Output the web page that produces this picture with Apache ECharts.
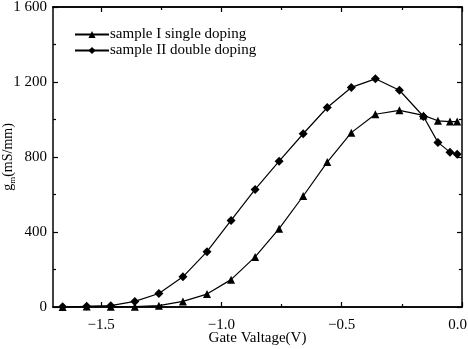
<!DOCTYPE html>
<html>
<head>
<meta charset="utf-8">
<script src="https://cdn.jsdelivr.net/npm/echarts@6/dist/echarts.min.js"></script>
<style>
  html, body { margin: 0; padding: 0; background: #fff; }
  #chart { width: 468px; height: 349px; }
</style>
</head>
<body>
<div id="chart"></div>
<script>
// Gate voltage sweep (V)
var gateVoltage = [-1.66, -1.56, -1.46, -1.36, -1.26, -1.16, -1.06, -0.96, -0.86, -0.76,
                   -0.66, -0.56, -0.46, -0.36, -0.26, -0.16, -0.10, -0.05, -0.02];
// Transconductance gm (mS/mm)
var gmSingle = [0, 3, 2, 2, 7, 30, 69, 146, 267, 418, 592, 773, 930, 1028, 1049, 1022, 993, 989, 989];
var gmDouble = [2, 4, 7, 30, 72, 161, 295, 462, 627, 778, 924, 1064, 1171, 1217, 1156, 1016, 878, 826, 815];

var seriesNames = ['sample I single doping', 'sample II double doping'];
var xMajorTicks = [-1.5, -1.0, -0.5, 0.0];
var xMinorTicks = [-1.25, -0.75, -0.25];

var FONT = "'Liberation Serif', 'DejaVu Serif', serif";

function pairs(xs, ys) {
  return xs.map(function (x, i) { return [x, ys[i]]; });
}
function fmtX(v) {
  var s = Math.abs(v).toFixed(1);
  // the 0.0 label sits against the right frame, nudge it inward
  if (v === 0) return '{edge|' + s + '}';
  return v < 0 ? '\u2212' + s : s;
}
function fmtY(v) {
  var s = String(v);
  return s.length > 3 ? s.slice(0, s.length - 3) + ' ' + s.slice(-3) : s;
}

var axisLineStyle = { color: '#000', width: 1.5 };

function xAxisDef(position, ticks, len, showLabel, name) {
  return {
    type: 'value', position: position, min: -1.7, max: 0,
    axisLine: { show: true, onZero: false, lineStyle: axisLineStyle },
    axisTick: { show: true, inside: true, length: len, customValues: ticks,
                lineStyle: { color: '#000', width: 1.2 } },
    axisLabel: showLabel ? {
      show: true, customValues: ticks, formatter: fmtX,
      margin: 11, color: '#000', fontFamily: FONT, fontSize: 15,
      rich: { edge: { fontFamily: FONT, fontSize: 15, color: '#000', padding: [0, 9, 0, 0] } }
    } : { show: false },
    splitLine: { show: false },
    name: name || '', nameLocation: 'middle', nameGap: 24, nameMoveOverlap: false,
    nameTextStyle: { color: '#000', fontFamily: FONT, fontSize: 15, verticalAlign: 'top' }
  };
}

function yAxisDef(position, showLabel, name) {
  return {
    type: 'value', position: position, min: 0, max: 1600, interval: 400,
    axisLine: { show: true, onZero: false, lineStyle: axisLineStyle },
    axisTick: { show: true, inside: true, length: 5, lineStyle: { color: '#000', width: 1.2 } },
    minorTick: { show: true, splitNumber: 2, length: 3, lineStyle: { color: '#000', width: 1.2 } },
    axisLabel: showLabel ? { show: true, formatter: fmtY, margin: 6, color: '#000',
                 fontFamily: FONT, fontSize: 15 } : { show: false },
    splitLine: { show: false },
    name: name || '', nameLocation: 'middle', nameGap: 36, nameRotate: 90, nameMoveOverlap: false,
    nameTextStyle: {
      color: '#000', fontFamily: FONT, fontSize: 14, verticalAlign: 'bottom',
      rich: { sub: { fontFamily: FONT, fontSize: 9, verticalAlign: 'bottom', padding: [8, 0, 0, 0] },
              n: { fontFamily: FONT, fontSize: 14 } }
    }
  };
}

var chart = echarts.init(document.getElementById('chart'), null, { renderer: 'canvas' });

chart.setOption({
  animation: false,
  backgroundColor: '#fff',
  grid: { left: 53, right: 6, top: 7, bottom: 42, outerBoundsMode: 'none', containLabel: false },
  legend: {
    data: seriesNames,
    orient: 'vertical', left: 74, top: 27, padding: 0,
    itemWidth: 34, itemHeight: 9, itemGap: 1,
    textStyle: { color: '#000', fontFamily: FONT, fontSize: 15, padding: [0, 0, 0, -4] }
  },
  xAxis: [
    xAxisDef('bottom', xMajorTicks, 5, true, 'Gate Valtage(V)'),
    xAxisDef('bottom', xMinorTicks, 3, false),
    xAxisDef('top', xMajorTicks, 5, false),
    xAxisDef('top', xMinorTicks, 3, false)
  ],
  yAxis: [
    yAxisDef('left', true, '{n|g}{sub|m}{n|(mS/mm)}'),
    yAxisDef('right', false)
  ],
  series: [
    {
      name: seriesNames[0], type: 'line', xAxisIndex: 0, yAxisIndex: 0,
      data: pairs(gateVoltage, gmSingle),
      symbol: 'triangle', symbolSize: 8,
      lineStyle: { color: '#000', width: 1.2 },
      itemStyle: { color: '#000' }
    },
    {
      name: seriesNames[1], type: 'line', xAxisIndex: 0, yAxisIndex: 0,
      data: pairs(gateVoltage, gmDouble),
      symbol: 'diamond', symbolSize: 9,
      lineStyle: { color: '#000', width: 1.2 },
      itemStyle: { color: '#000' }
    }
  ]
});
</script>
</body>
</html>
